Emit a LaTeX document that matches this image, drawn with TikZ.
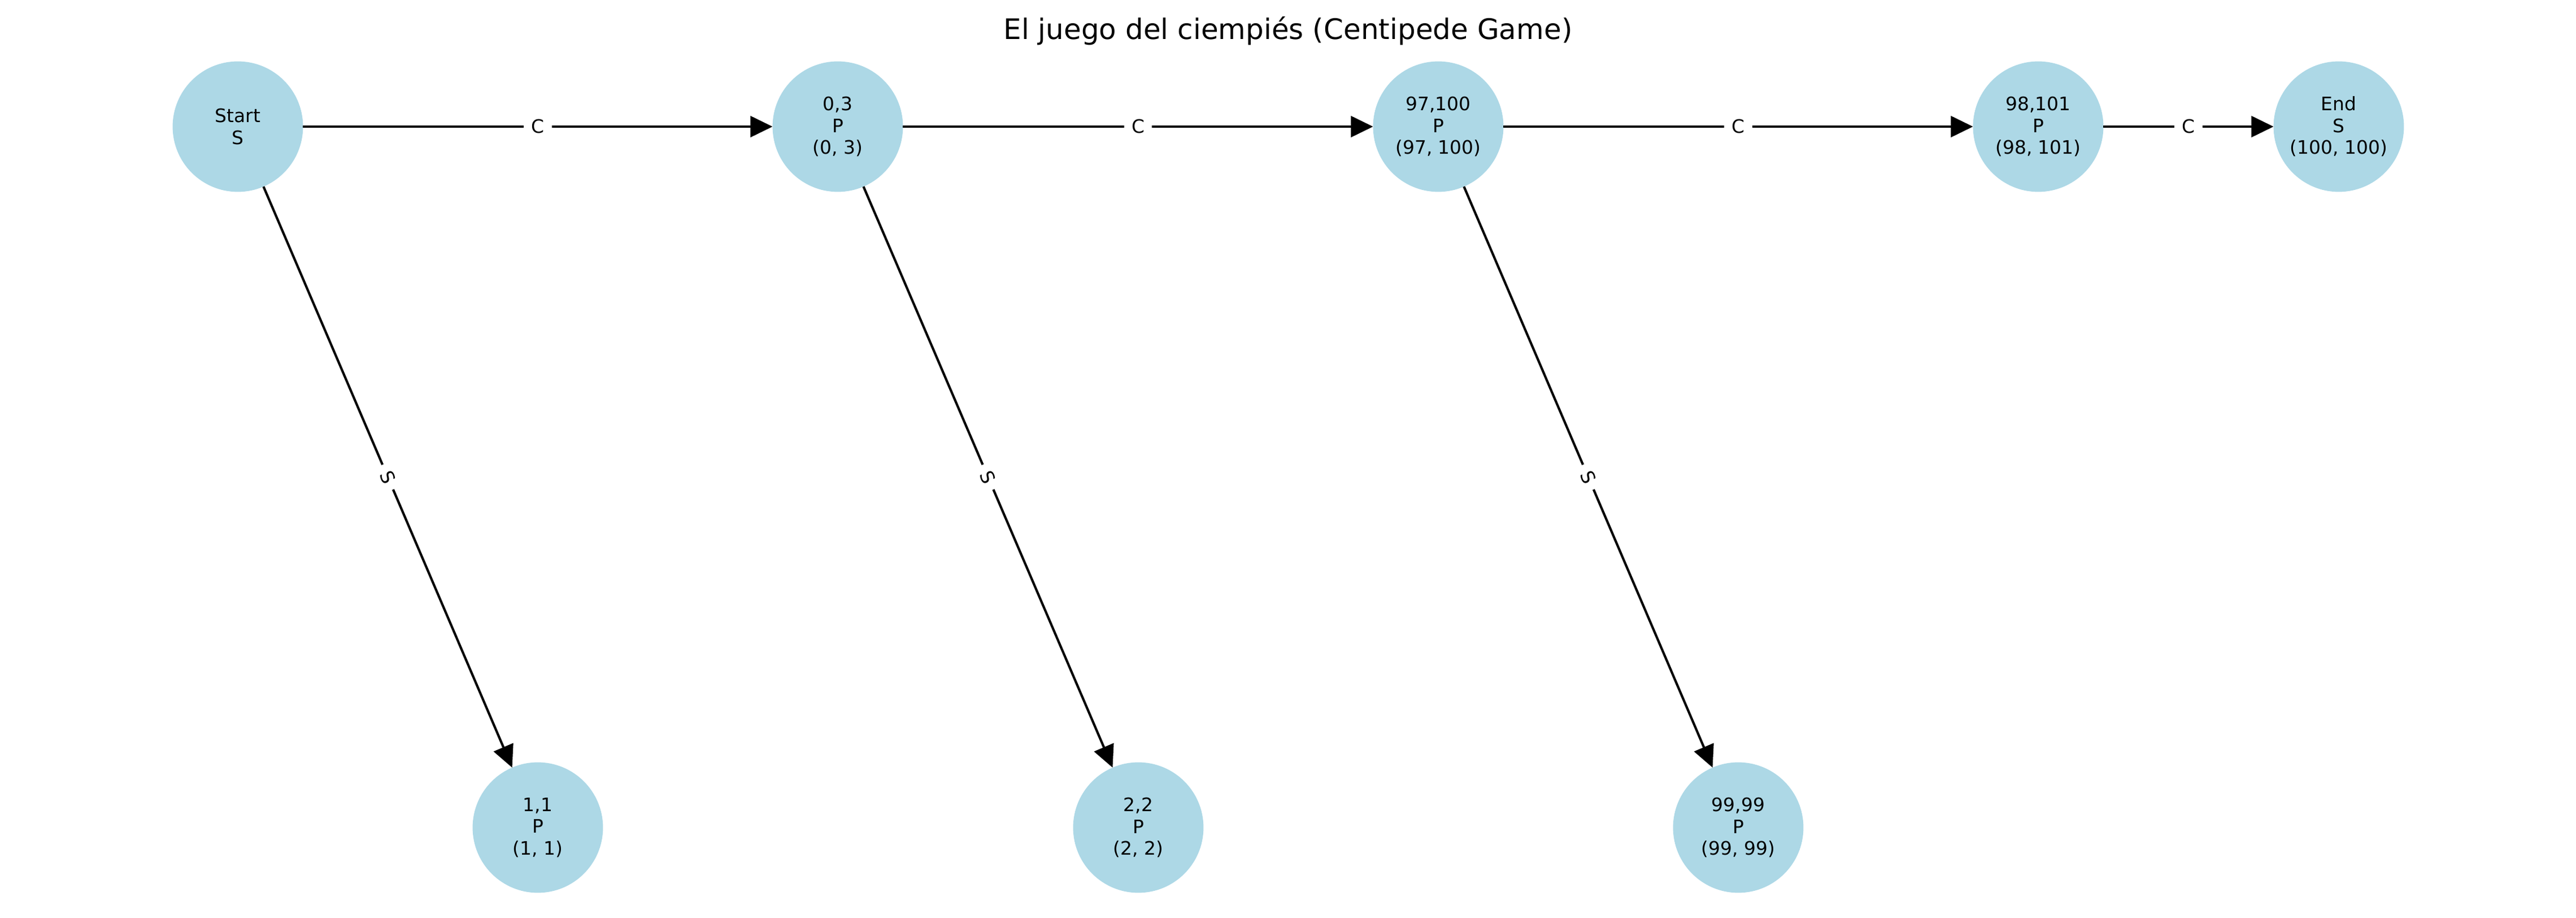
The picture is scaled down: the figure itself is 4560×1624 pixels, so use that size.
\documentclass[tikz,border=0pt]{standalone}
\usepackage{fontspec}
\setmainfont{DejaVu Sans}
\usetikzlibrary{arrows.meta}
\definecolor{nodeblue}{HTML}{ADD8E6}
\begin{document}
\begin{tikzpicture}[x=0.24pt,y=-0.24pt,
  gnode/.style={circle, fill=nodeblue, minimum size=55.4pt, inner sep=0pt, outer sep=0pt, align=center, font=\fontsize{7.9}{9.2}\selectfont},
  garrow/.style={-{Triangle[length=9.4pt,width=8.9pt]}, line width=1pt, black},
  elabel/.style={fill=white, inner xsep=3.2pt, inner ysep=2pt, font=\fontsize{7.9}{9.6}\selectfont, midway}]
\useasboundingbox (0,0) rectangle (4560,1624);
\node[font=\fontsize{12}{14}\selectfont, anchor=base, inner sep=0pt] (title) at (2280,70) {El juego del ciempiés (Centipede Game)};
\node[gnode] (start) at (421,224) {Start\\S};
\node[gnode] (n03) at (1483,224) {0,3\\P\\(0, 3)};
\node[gnode] (n97) at (2546,224) {97,100\\P\\(97, 100)};
\node[gnode] (n98) at (3608,224) {98,101\\P\\(98, 101)};
\node[gnode] (end) at (4140,224) {End\\S\\(100, 100)};
\node[gnode] (n11) at (952,1464) {1,1\\P\\(1, 1)};
\node[gnode] (n22) at (2015,1464) {2,2\\P\\(2, 2)};
\node[gnode] (n99) at (3077,1464) {99,99\\P\\(99, 99)};
\draw[garrow] (start) -- node[elabel] {C} (n03);
\draw[garrow] (n03) -- node[elabel] {C} (n97);
\draw[garrow] (n97) -- node[elabel] {C} (n98);
\draw[garrow] (n98) -- node[elabel] {C} (end);
\draw[garrow] (start) -- node[elabel, sloped] {S} (n11);
\draw[garrow] (n03) -- node[elabel, sloped] {S} (n22);
\draw[garrow] (n97) -- node[elabel, sloped] {S} (n99);
\end{tikzpicture}
\end{document}
